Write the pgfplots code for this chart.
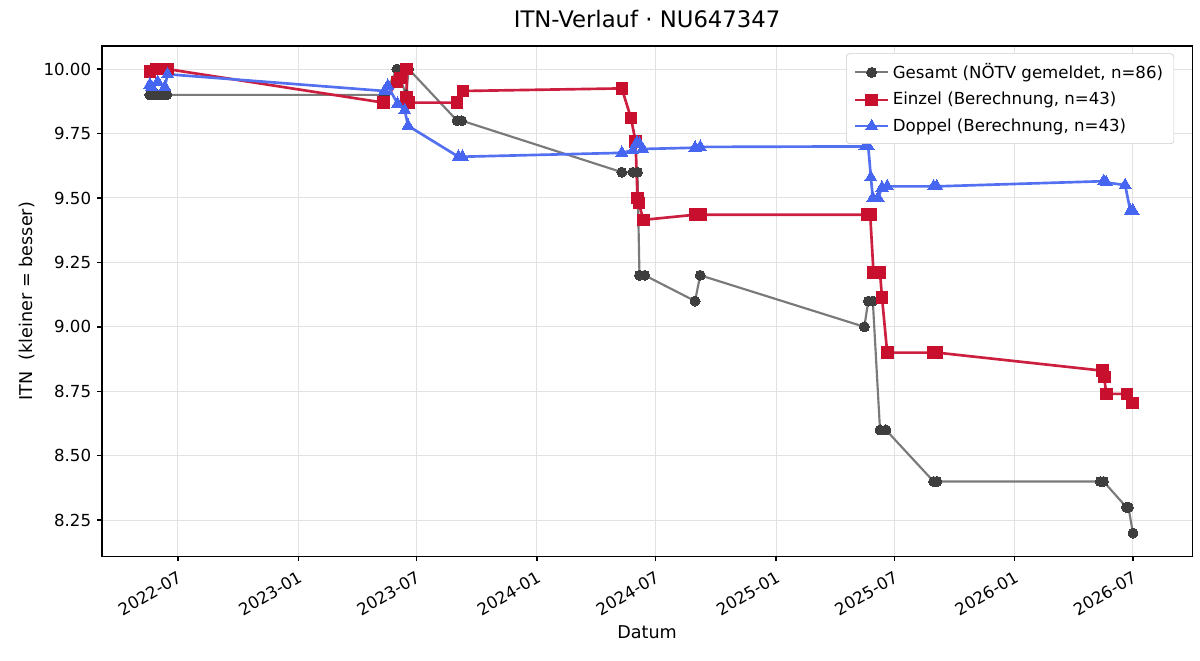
\documentclass[border=0pt]{standalone}
\usepackage{fontspec}
\setmainfont{DejaVu Sans}
\usepackage{pgfplots}
\pgfplotsset{compat=1.18}
\definecolor{cgray}{RGB}{122,122,122}
\definecolor{cgraym}{RGB}{62,62,62}
\definecolor{cred}{RGB}{204,30,62}
\definecolor{credm}{RGB}{200,16,46}
\definecolor{cblue}{RGB}{82,112,240}
\definecolor{cbluem}{RGB}{70,102,242}
\definecolor{cgrid}{RGB}{226,226,226}
\begin{document}
\begin{tikzpicture}
\useasboundingbox (0,0) rectangle (722.7pt,397.5pt);
\begin{axis}[
 at={(61.4pt,62.5pt)}, anchor=south west,
 scale only axis, width=656.6pt, height=307.2pt,
 xmin=64.7, xmax=1732.6, ymin=8.110, ymax=10.089,
 xtick={181,365,546,730,912,1096,1277,1461,1642},
 xticklabels={2022-07,2023-01,2023-07,2024-01,2024-07,2025-01,2025-07,2026-01,2026-07},
 ytick={8.25,8.5,8.75,9,9.25,9.5,9.75,10},
 yticklabel style={/pgf/number format/.cd, fixed, fixed zerofill, precision=2},
 /pgf/number format/assume math mode=true,
 tick align=outside, xtick pos=bottom, ytick pos=left,
 major tick length=3pt,
 grid=major, grid style={cgrid, line width=0.6pt},
 axis line style={line width=0.8pt},
 tick style={black, line width=0.8pt},
 ticklabel style={font=\fontsize{10}{12}\selectfont},
 xticklabel style={rotate=30, anchor=north east, yshift=-1pt},
 title={ITN-Verlauf · NU647347},
 title style={font=\fontsize{13.7}{16}\selectfont, at={(0.5,1)}, anchor=base, yshift=5.4pt},
 xlabel={Datum}, ylabel={ITN\ \ (kleiner = besser)},
 label style={font=\fontsize{10.6}{13}\selectfont},
 xlabel style={at={(axis description cs:0.5,0)}, anchor=base, yshift=-49.4pt},
 ylabel style={at={(axis description cs:-0.0634,0.5)}, anchor=base},
 legend style={at={(0.9835,0.986)}, anchor=north east, draw=black!20, rounded corners=2pt,
   fill=white, font=\fontsize{10}{12}\selectfont,
   inner xsep=4.5pt, inner ysep=4pt, row sep=2.7pt},
 legend cell align=left,
 legend image code/.code={\draw[mark repeat=2,mark phase=2] plot coordinates {(0cm,0cm)(0.35cm,0cm)(0.7cm,0cm)};},
]
\addplot[cgray, line width=1.3pt, mark=*, mark size=3pt, mark options={draw=cgraym, fill=cgraym, line width=0pt}] coordinates {
(138,9.90)(142,9.90)(146,9.90)(150,9.90)(154,9.90)(160,9.90)(164,9.90)
(497,9.90)(516,10.00)(530,9.90)(534,10.00)(608,9.80)(615,9.80)
(860,9.60)(877,9.60)(884,9.60)(887,9.20)(895,9.20)(972,9.10)(980,9.20)
(1231,9.00)(1237,9.10)(1244,9.10)(1255,8.60)(1264,8.60)(1337,8.40)(1342,8.40)
(1592,8.40)(1597,8.40)(1632,8.30)(1635,8.30)(1642,8.20)
};
\addlegendentry{Gesamt (NÖTV gemeldet, n=86)}
\addplot[cred, line width=1.6pt, mark=square*, mark size=3.5pt, mark options={draw=credm, fill=credm, line width=0pt}] coordinates {
(138,9.99)(148,10.00)(153,10.00)(160,10.00)(165,10.00)
(495,9.87)(516,9.95)(521,9.965)(531,10.00)(531,9.89)(534,9.87)(608,9.87)(617,9.915)
(860,9.925)(874,9.81)(881,9.72)(884,9.50)(886,9.48)(893,9.415)(972,9.435)(980,9.435)
(1235,9.435)(1240,9.435)(1245,9.21)(1255,9.21)(1258,9.115)(1266,8.90)(1337,8.90)(1342,8.90)
(1595,8.83)(1598,8.805)(1601,8.74)(1633,8.74)(1641,8.705)
};
\addlegendentry{Einzel (Berechnung, n=43)}
\addplot[cblue, line width=1.6pt, mark=triangle*, mark size=4.2pt, mark options={draw=cbluem, fill=cbluem, line width=0pt}] coordinates {
(138,9.94)(141,9.93)(150,9.95)(161,9.93)(165,9.98)
(497,9.915)(502,9.935)(517,9.865)(528,9.84)(533,9.78)(610,9.66)(616,9.66)
(860,9.675)(877,9.685)(883,9.715)(887,9.71)(892,9.69)(972,9.695)(980,9.698)
(1232,9.70)(1237,9.70)(1241,9.58)(1244,9.50)(1252,9.50)(1258,9.54)(1266,9.545)(1337,9.545)(1342,9.545)
(1597,9.565)(1601,9.56)(1630,9.55)(1638,9.45)(1642,9.45)
};
\addlegendentry{Doppel (Berechnung, n=43)}
\end{axis}
\end{tikzpicture}
\end{document}
